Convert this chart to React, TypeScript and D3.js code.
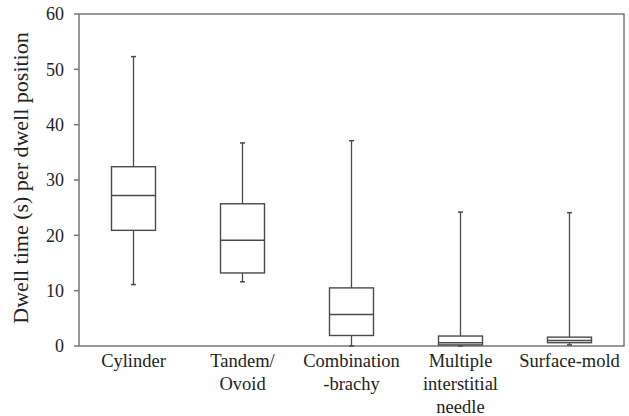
import React from "react";
import * as d3 from "d3";

const categories = ["Cylinder", "Tandem/\nOvoid", "Combination\n-brachy", "Multiple\ninterstitial\nneedle", "Surface-mold"];
const whiskerLow = [11.1, 11.6, 0, 0, 0.2];
const q1 = [20.9, 13.2, 1.9, 0.2, 0.6];
const median = [27.2, 19.1, 5.7, 0.6, 1.0];
const q3 = [32.4, 25.7, 10.5, 1.8, 1.6];
const whiskerHigh = [52.3, 36.7, 37.1, 24.2, 24.1];
const yTicks = [0, 10, 20, 30, 40, 50, 60];
const yTitle = "Dwell time (s) per dwell position";

const W = 629, H = 416;
const left = 79, right = 624, top = 14, bottom = 346;
const fontStyle = { fontFamily: "Liberation Serif" };
const axisColor = "#777";
const boxColor = "#4a4a4a";
const textColor = "#222";

export default function App() {
  const y = d3.scaleLinear().domain([0, 60]).range([bottom, top]);
  const x = d3.scaleBand<number>().domain(categories.map((_, i) => i)).range([left, right]).padding(0);
  const bw = 44;
  const cap = 2.5;
  return (
    <svg width={W} height={H} style={{ position: "absolute", left: 0, top: 0, background: "#fff" }}>
      <rect x={left} y={top} width={right - left} height={bottom - top} fill="none" stroke={axisColor} strokeWidth={1.5} />
      {yTicks.map((t) => (
        <g key={t}>
          <line x1={left - 5} x2={left} y1={y(t)} y2={y(t)} stroke={axisColor} strokeWidth={1.5} />
          <text x={64} y={y(t)} dy="0.35em" textAnchor="end" fontSize={18} fill={textColor} style={fontStyle}>{t}</text>
        </g>
      ))}
      <text transform={`translate(27.5,178) rotate(-90)`} textAnchor="middle" fontSize={22} fill={textColor} style={fontStyle}>{yTitle}</text>
      {categories.map((c, i) => {
        const cx = (x(i) as number) + x.bandwidth() / 2;
        return (
          <g key={i}>
            <line x1={cx} x2={cx} y1={y(whiskerHigh[i])} y2={y(q3[i])} stroke={boxColor} strokeWidth={1.3} />
            <line x1={cx} x2={cx} y1={y(q1[i])} y2={y(whiskerLow[i])} stroke={boxColor} strokeWidth={1.3} />
            <line x1={cx - cap} x2={cx + cap} y1={y(whiskerHigh[i])} y2={y(whiskerHigh[i])} stroke={boxColor} strokeWidth={1.5} />
            <line x1={cx - cap} x2={cx + cap} y1={y(whiskerLow[i])} y2={y(whiskerLow[i])} stroke={boxColor} strokeWidth={1.5} />
            <rect x={cx - bw / 2} y={y(q3[i])} width={bw} height={y(q1[i]) - y(q3[i])} fill="#fff" stroke={boxColor} strokeWidth={1.4} />
            <line x1={cx - bw / 2} x2={cx + bw / 2} y1={y(median[i])} y2={y(median[i])} stroke={boxColor} strokeWidth={1.4} />
            <text x={cx} y={367} textAnchor="middle" fontSize={18.5} fill={textColor} style={fontStyle}>
              {c.split("\n").map((line, j) => (
                <tspan key={j} x={cx} dy={j === 0 ? 0 : 23}>{line}</tspan>
              ))}
            </text>
          </g>
        );
      })}
    </svg>
  );
}
